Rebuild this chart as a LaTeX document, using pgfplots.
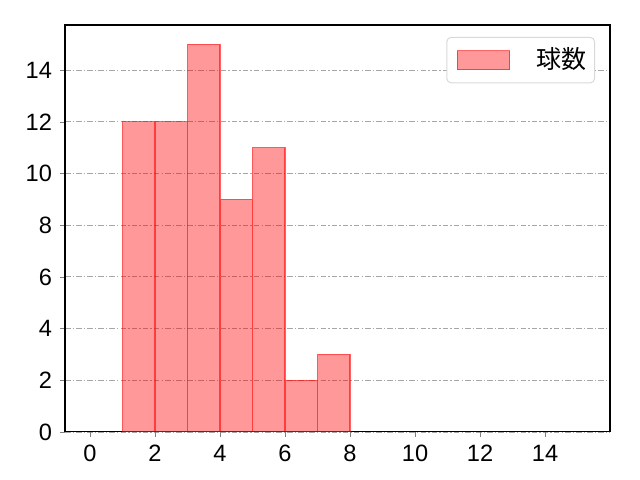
\documentclass[border=0pt]{standalone}
\usepackage{pgfplots}
\pgfplotsset{compat=1.18}
\usepackage{fontspec}
\setmainfont{Liberation Sans}
\newfontfamily\cjk{Noto Sans CJK JP}
\begin{document}
\fontsize{17pt}{20pt}\selectfont
\begin{tikzpicture}[x=1pt,y=1pt]
\begin{axis}[
  width=392.4pt, height=293.0pt,
  scale only axis,
  xmin=-0.77, xmax=16.0,
  ymin=0, ymax=15.75,
  xtick={0,2,...,14},
  ytick={0,2,...,14},
  tick align=outside,
  tick pos=left,
  major tick length=3.5pt,
  ymajorgrids=true,
  grid style={gray!70, dash pattern=on 4pt off 1.5pt on 1pt off 1.5pt, line width=0.6pt},
  axis line style={line width=0.8pt},
  /pgf/number format/assume math mode=true,
  tick label style={font=\fontsize{17pt}{20pt}\selectfont},
  legend style={at={(1,1)}, anchor=north east, xshift=-10.8pt, yshift=-8.6pt,
    draw=black!15, rounded corners=3pt, line width=0.7pt,
    font=\cjk\fontsize{18pt}{21pt}\selectfont, inner xsep=4pt, inner ysep=5.5pt},
  legend cell align=left,
  legend image code/.code={
    \path (0pt,0pt);
    \draw[#1, sharp corners] (3pt,-6.8pt) rectangle (41pt,6.8pt);
  },
]
\addplot[ybar interval, fill=red, fill opacity=0.4, draw=red, draw opacity=0.6, line width=0.8pt]
  coordinates {(1,12) (2,12) (3,15) (4,9) (5,11) (6,2) (7,3) (8,3)};
\addlegendentry{\hspace{16.5pt}球数}
\end{axis}
\path[use as bounding box] (current axis.south west) ++(-46.8pt,-34.56pt) rectangle ([shift={(21.6pt,18pt)}]current axis.north east);
\end{tikzpicture}
\end{document}
